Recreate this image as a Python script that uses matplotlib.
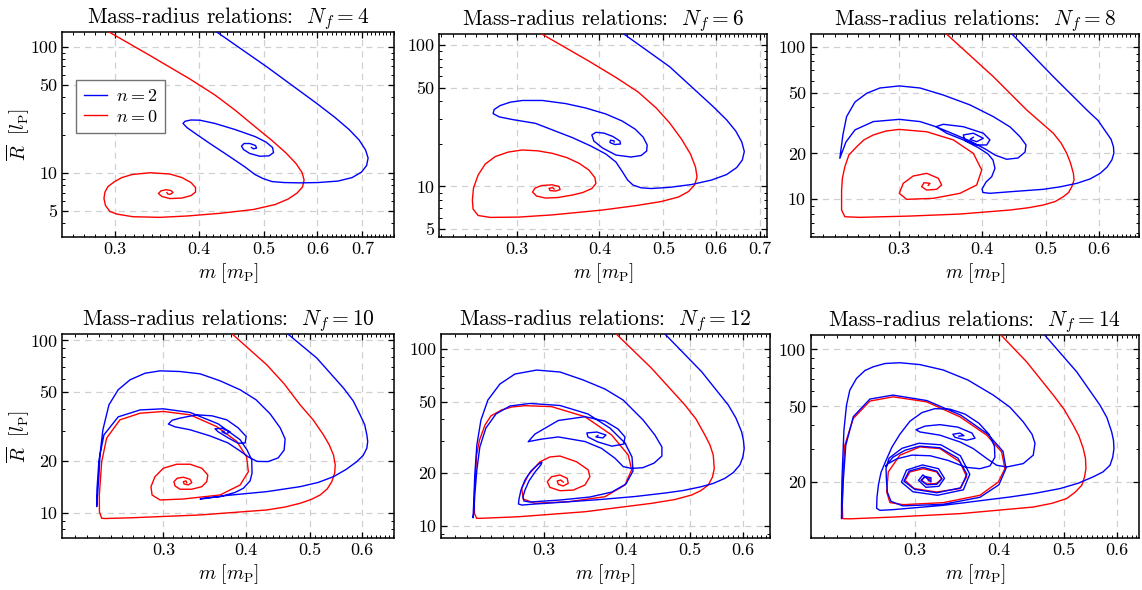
import numpy as np
import matplotlib
matplotlib.use("Agg")
import matplotlib.pyplot as plt
from matplotlib.ticker import FixedLocator, NullFormatter, LogLocator, MultipleLocator

# mass m [m_P] and radius R [l_P] along each sequence, n = 0 (red) and n = 2 (blue)
m_red_4 = [0.2889, 0.3382, 0.3878, 0.4224, 0.4526, 0.4846, 0.5137, 0.5390, 0.5577, 0.5693, 0.5733, 0.5702,
           0.5596, 0.5426, 0.5191, 0.4814, 0.4299, 0.3839, 0.3500, 0.3191, 0.3021, 0.2949, 0.2904, 0.2889,
           0.2899, 0.2929, 0.2997, 0.3072, 0.3180, 0.3382, 0.3622, 0.3773, 0.3892, 0.3953, 0.3953, 0.3892,
           0.3773, 0.3622, 0.3524, 0.3482, 0.3512, 0.3573, 0.3634, 0.3660, 0.3622, 0.3591, 0.3585]
R_red_4 = [138, 85.2, 55.5, 41.5, 31.5, 23.3, 18.08, 14.40, 11.89, 10.09, 8.80, 7.75,
           6.94, 6.22, 5.63, 5.14, 4.80, 4.57, 4.46, 4.51, 4.73, 4.96, 5.53, 6.30,
           7.07, 7.82, 8.56, 9.21, 9.73, 10.06, 9.82, 9.21, 8.41, 7.68, 7.07, 6.63,
           6.34, 6.28, 6.52, 6.88, 7.23, 7.38, 7.27, 7.01, 6.78, 6.84, 7.01]
m_blue_4 = [0.4210, 0.5044, 0.5986, 0.6375, 0.6689, 0.6922, 0.7077, 0.7138, 0.7102, 0.6980, 0.6759, 0.6440,
            0.6014, 0.5651, 0.5353, 0.5137, 0.4981, 0.4846, 0.4684, 0.4447, 0.4153, 0.3959, 0.3839, 0.3787,
            0.3813, 0.3892, 0.4013, 0.4224, 0.4526, 0.4846, 0.5032, 0.5146, 0.5164, 0.5085, 0.4928, 0.4762,
            0.4659, 0.4627, 0.4668, 0.4762, 0.4855, 0.4872, 0.4822, 0.4788]
R_blue_4 = [135.6, 69.4, 35.6, 27.5, 22.1, 18.25, 15.21, 13.15, 11.47, 10.18, 9.21, 8.64,
            8.41, 8.36, 8.41, 8.56, 9.05, 9.73, 11.16, 13.46, 17.13, 20.4, 22.9, 24.7,
            25.7, 26.3, 26.2, 24.7, 22.1, 19.45, 17.60, 15.92, 14.53, 13.68, 13.58, 14.27,
            15.35, 16.36, 17.13, 17.13, 16.51, 15.77, 15.55, 15.92]

m_red_6 = [0.3230, 0.3847, 0.4237, 0.4579, 0.4878, 0.5111, 0.5327, 0.5497, 0.5595, 0.5625, 0.5576, 0.5460,
           0.5270, 0.4965, 0.4547, 0.4044, 0.3392, 0.3017, 0.2731, 0.2618, 0.2572, 0.2566, 0.2576, 0.2618,
           0.2684, 0.2780, 0.2909, 0.3053, 0.3222, 0.3392, 0.3567, 0.3726, 0.3855, 0.3936, 0.3951, 0.3895,
           0.3773, 0.3640, 0.3456, 0.3314, 0.3210, 0.3166, 0.3194, 0.3267, 0.3392, 0.3474, 0.3486, 0.3432,
           0.3366, 0.3354, 0.3396, 0.3414]
R_red_6 = [123.6, 77.3, 58.9, 46.5, 35.8, 28.1, 21.6, 16.93, 13.69, 11.63, 10.21, 9.19,
           8.40, 7.81, 7.31, 6.80, 6.28, 6.06, 6.03, 6.22, 6.91, 8.00, 9.72, 12.02,
           14.38, 16.25, 17.48, 18.07, 17.84, 17.12, 15.99, 14.55, 13.04, 11.54, 10.47, 9.65,
           9.04, 8.68, 8.33, 8.26, 8.54, 9.11, 9.72, 10.13, 10.25, 9.97, 9.49, 9.26,
           9.34, 9.68, 9.79, 9.57]
m_blue_6 = [0.4313, 0.5111, 0.5953, 0.6238, 0.6440, 0.6577, 0.6635, 0.6589, 0.6462, 0.6238, 0.5918, 0.5517,
            0.5111, 0.4793, 0.4627, 0.4498, 0.4413, 0.4337, 0.4237, 0.4090, 0.3882, 0.3640, 0.3199, 0.2950,
            0.2818, 0.2759, 0.2769, 0.2828, 0.2930, 0.3056, 0.3276, 0.3554, 0.3815, 0.4090, 0.4329, 0.4531,
            0.4660, 0.4726, 0.4717, 0.4627, 0.4467, 0.4237, 0.4044, 0.3923, 0.3895, 0.3950, 0.4063, 0.4194,
            0.4297, 0.4305, 0.4222, 0.4150, 0.4157, 0.4208, 0.4211]
R_blue_6 = [123.6, 70.2, 36.6, 29.5, 24.6, 20.6, 17.63, 15.35, 13.59, 12.12, 11.08, 10.30,
            9.84, 9.65, 9.76, 10.21, 11.08, 12.62, 14.86, 16.93, 19.28, 22.1, 27.9, 29.7,
            31.0, 32.7, 34.96, 37.3, 39.4, 40.5, 40.5, 38.5, 35.8, 32.5, 29.0, 25.4,
            22.3, 19.60, 17.77, 16.52, 16.12, 16.65, 18.66, 20.9, 23.1, 24.1, 23.8, 22.5,
            20.9, 19.93, 19.76, 20.4, 21.2, 21.0, 20.6]

m_red_8 = [0.3480, 0.4160, 0.4671, 0.5124, 0.5264, 0.5370, 0.5440, 0.5495, 0.5508, 0.5465, 0.5404, 0.5306,
           0.5157, 0.4950, 0.4693, 0.4409, 0.3705, 0.3113, 0.2616, 0.2483, 0.2455, 0.2455, 0.2462, 0.2483,
           0.2518, 0.2587, 0.2653, 0.2741, 0.2864, 0.3000, 0.3300, 0.3620, 0.3881, 0.3996, 0.3926, 0.3705,
           0.3376, 0.3078, 0.3000, 0.3042, 0.3148, 0.3300, 0.3436, 0.3476, 0.3416, 0.3300, 0.3243, 0.3269,
           0.3338, 0.3318]
R_red_8 = [128.7, 63.6, 38.5, 27.1, 23.4, 20.0, 17.29, 14.80, 13.38, 12.09, 11.08, 10.40,
           9.67, 9.18, 8.80, 8.51, 8.01, 7.77, 7.62, 7.69, 8.51, 11.50, 13.79, 16.35,
           19.51, 22.1, 24.5, 26.4, 28.0, 28.7, 27.7, 24.5, 20.0, 15.56, 12.41, 10.95,
           10.15, 10.0, 10.95, 12.73, 14.21, 14.80, 13.73, 12.41, 11.63, 11.50, 12.09, 12.85,
           12.73, 12.35]
m_blue_8 = [0.4378, 0.5124, 0.5757, 0.5988, 0.6173, 0.6265, 0.6316, 0.6326, 0.6281, 0.6179, 0.6031, 0.5822,
            0.5561, 0.5247, 0.4950, 0.4409, 0.4111, 0.4012, 0.4000, 0.4056, 0.4137, 0.4184, 0.4155, 0.4084,
            0.3945, 0.3748, 0.3537, 0.3416, 0.3224, 0.3000, 0.2741, 0.2572, 0.2492, 0.2440, 0.2449, 0.2466,
            0.2498, 0.2572, 0.2679, 0.2805, 0.3000, 0.3224, 0.3496, 0.3837, 0.4160, 0.4409, 0.4564, 0.4661,
            0.4645, 0.4533, 0.4358, 0.4184, 0.4042, 0.3837, 0.3578, 0.3407, 0.3496, 0.3748, 0.4018, 0.4111,
            0.4065, 0.3926, 0.3770, 0.3748, 0.3881, 0.4018, 0.3926, 0.3837, 0.3881]
R_blue_8 = [128.7, 63.6, 38.5, 32.8, 27.1, 24.7, 22.1, 20.1, 18.09, 16.28, 14.80, 13.59,
            12.73, 12.07, 11.63, 11.21, 10.95, 11.08, 11.68, 12.98, 14.07, 15.96, 18.09, 19.81,
            21.85, 24.5, 27.1, 29.8, 32.3, 33.4, 32.3, 28.5, 23.7, 18.56, 21.0, 26.4,
            34.8, 43.4, 49.5, 53.6, 55.3, 53.6, 48.2, 41.5, 34.8, 29.8, 25.7, 22.7,
            20.4, 18.65, 18.29, 19.51, 21.4, 24.1, 27.4, 29.9, 31.0, 29.9, 27.1, 24.5,
            22.7, 22.7, 24.3, 26.4, 27.1, 25.1, 23.85, 24.7, 25.5]

m_red_10 = [0.3781, 0.4305, 0.4574, 0.4836, 0.5061, 0.5247, 0.5353, 0.5435, 0.5467, 0.5457, 0.5403, 0.5316,
            0.5187, 0.5026, 0.4836, 0.4590, 0.4305, 0.3410, 0.2702, 0.2446, 0.2419, 0.2400, 0.2399, 0.2419,
            0.2461, 0.2578, 0.2766, 0.3000, 0.3293, 0.3615, 0.3878, 0.4012, 0.4037, 0.3923, 0.3657, 0.3217,
            0.2966, 0.2884, 0.2873, 0.2914, 0.3000, 0.3143, 0.3293, 0.3431, 0.3504, 0.3491, 0.3431, 0.3313,
            0.3180, 0.3125, 0.3113, 0.3149, 0.3216, 0.3293, 0.3313, 0.3273, 0.3225, 0.3217, 0.3247, 0.3256]
R_red_10 = [112.4, 72.2, 56.0, 42.3, 34.6, 28.3, 24.8, 21.6, 18.94, 17.01, 15.14, 13.73,
            12.67, 11.93, 11.34, 10.79, 10.37, 9.70, 9.35, 9.25, 9.28, 10.09, 12.67, 19.80,
            27.1, 34.6, 37.8, 38.7, 37.0, 31.6, 25.9, 21.1, 17.31, 14.49, 12.67, 12.01,
            11.85, 12.67, 14.16, 16.19, 18.12, 19.11, 19.11, 18.12, 16.56, 15.14, 14.16, 13.68,
            13.68, 14.30, 15.14, 15.85, 16.06, 15.63, 14.94, 14.49, 14.68, 15.14, 15.29, 14.94]
m_blue_10 = [0.4590, 0.5127, 0.5628, 0.5821, 0.5964, 0.6060, 0.6106, 0.6124, 0.6106, 0.6028, 0.5896, 0.5680,
             0.5435, 0.5151, 0.4836, 0.4305, 0.3744, 0.3470, 0.3410, 0.3470, 0.3657, 0.3853, 0.3967, 0.4061,
             0.4089, 0.4085, 0.4019, 0.3923, 0.3632, 0.3293, 0.2998, 0.2766, 0.2562, 0.2438, 0.2396, 0.2379,
             0.2377, 0.2384, 0.2396, 0.2404, 0.2429, 0.2481, 0.2562, 0.2671, 0.2814, 0.2966, 0.3180, 0.3410,
             0.3657, 0.3923, 0.4148, 0.4355, 0.4511, 0.4590, 0.4574, 0.4480, 0.4325, 0.4162, 0.4034, 0.3923,
             0.3761, 0.3532, 0.3293, 0.3125, 0.3053, 0.3093, 0.3180, 0.3371, 0.3556, 0.3744, 0.3895, 0.4006,
             0.3992, 0.3895, 0.3761, 0.3632, 0.3593, 0.3682, 0.3787, 0.3734, 0.3682, 0.3708]
R_blue_10 = [112.4, 79.0, 52.9, 44.6, 37.0, 32.4, 28.3, 25.9, 23.7, 21.5, 19.80, 17.83,
             16.19, 14.98, 14.16, 13.25, 12.59, 12.09, 12.01, 12.17, 12.39, 13.10, 13.86, 15.29,
             16.95, 20.25, 23.1, 26.5, 32.8, 38.2, 40.1, 39.5, 36.0, 28.3, 20.25, 13.55,
             10.84, 12.67, 16.56, 21.6, 30.3, 42.3, 51.7, 59.1, 64.5, 66.6, 66.0, 64.0,
             58.3, 51.7, 45.2, 37.5, 31.1, 26.8, 23.1, 20.8, 19.80, 19.85, 21.1, 22.8,
             25.4, 27.9, 30.3, 31.5, 32.7, 34.4, 35.4, 37.0, 36.5, 34.6, 31.1, 27.7,
             25.4, 25.3, 27.2, 29.5, 30.7, 30.9, 29.5, 28.7, 29.5, 29.7]

m_red_12 = [0.3836, 0.4369, 0.4908, 0.5099, 0.5261, 0.5355, 0.5416, 0.5435, 0.5402, 0.5322, 0.5190, 0.5023,
            0.4738, 0.4369, 0.3464, 0.2746, 0.2402, 0.2375, 0.2357, 0.2356, 0.2375, 0.2399, 0.2445, 0.2496,
            0.2591, 0.2686, 0.2811, 0.3084, 0.3464, 0.3802, 0.4029, 0.4076, 0.3982, 0.3713, 0.3268, 0.2910,
            0.2794, 0.2779, 0.2843, 0.2961, 0.3066, 0.3176, 0.3365, 0.3504, 0.3524, 0.3464, 0.3326, 0.3176,
            0.3066, 0.3038, 0.3084, 0.3176, 0.3257, 0.3268, 0.3212, 0.3157, 0.3145, 0.3183, 0.3212]
R_red_12 = [124.8, 77.8, 48.2, 40.2, 32.6, 28.6, 25.1, 21.1, 18.86, 17.0, 15.82, 14.92,
            14.07, 13.39, 12.00, 11.24, 11.01, 11.01, 11.80, 14.92, 25.1, 30.5, 37.1, 41.8,
            45.2, 47.0, 47.8, 47.2, 41.4, 32.6, 25.1, 20.7, 17.0, 14.59, 13.67, 13.39,
            14.16, 16.28, 19.36, 23.0, 24.5, 24.8, 23.0, 20.7, 18.94, 17.0, 15.92, 15.78,
            16.49, 17.75, 18.94, 19.36, 18.54, 17.38, 16.78, 17.15, 17.91, 18.14, 17.67]
m_blue_12 = [0.4546, 0.5201, 0.5707, 0.5861, 0.5979, 0.6016, 0.6033, 0.6005, 0.5943, 0.5808, 0.5640, 0.5411,
             0.5171, 0.4874, 0.4577, 0.4122, 0.3650, 0.3231, 0.2910, 0.2781, 0.2748, 0.2753, 0.2772, 0.2811,
             0.2870, 0.2941, 0.2982, 0.2972, 0.2910, 0.2850, 0.2811, 0.2791, 0.2801, 0.2860, 0.3176, 0.3524,
             0.3805, 0.3996, 0.4095, 0.4081, 0.3982, 0.3779, 0.3500, 0.3176, 0.2860, 0.2668, 0.2541, 0.2453,
             0.2402, 0.2377, 0.2360, 0.2352, 0.2346, 0.2352, 0.2360, 0.2377, 0.2411, 0.2470, 0.2576, 0.2715,
             0.2927, 0.3176, 0.3443, 0.3713, 0.3958, 0.4243, 0.4420, 0.4529, 0.4529, 0.4406, 0.4238, 0.4076,
             0.3958, 0.3846, 0.3670, 0.3464, 0.3157, 0.2975, 0.2843, 0.2910, 0.3013, 0.3157, 0.3464, 0.3713,
             0.3886, 0.3982, 0.3968, 0.3805, 0.3623, 0.3500, 0.3487, 0.3611, 0.3727, 0.3688, 0.3599, 0.3623]
R_blue_12 = [124.8, 74.4, 48.2, 40.7, 34.0, 30.5, 27.4, 24.5, 22.1, 20.0, 18.54, 17.34,
             16.56, 15.82, 15.31, 14.63, 14.07, 13.62, 13.27, 13.09, 13.27, 14.16, 15.92, 18.14,
             20.4, 22.2, 22.9, 22.1, 20.1, 17.91, 15.92, 14.54, 13.80, 13.62, 13.98, 14.54,
             15.51, 17.22, 20.4, 24.5, 29.4, 35.7, 42.9, 47.9, 49.2, 47.6, 42.9, 35.7,
             27.9, 20.7, 14.92, 11.80, 11.10, 13.98, 19.36, 28.6, 39.6, 51.4, 63.4, 72.2,
             76.0, 74.1, 66.8, 59.4, 51.4, 39.6, 32.6, 27.9, 24.8, 22.6, 21.3, 21.1,
             21.6, 24.1, 27.4, 29.96, 31.8, 30.9, 29.9, 33.0, 35.6, 39.4, 41.4, 39.1,
             35.3, 31.8, 29.0, 28.2, 29.8, 31.8, 33.5, 33.9, 32.6, 31.4, 31.8, 32.4]

m_red_14 = [0.3989, 0.4397, 0.4819, 0.4998, 0.5161, 0.5261, 0.5340, 0.5380, 0.5389, 0.5362, 0.5312, 0.5191,
            0.5044, 0.4797, 0.4499, 0.3500, 0.2784, 0.2400, 0.2342, 0.2339, 0.2342, 0.2347, 0.2359, 0.2428,
            0.2571, 0.2784, 0.3122, 0.3500, 0.3836, 0.4037, 0.4083, 0.3992, 0.3748, 0.3306, 0.2882, 0.2754,
            0.2723, 0.2738, 0.2849, 0.3051, 0.3268, 0.3500, 0.3581, 0.3500, 0.3231, 0.2992, 0.2900, 0.2949,
            0.3087, 0.3231, 0.3287, 0.3231, 0.3122, 0.3070, 0.3105, 0.3159, 0.3140]
R_red_14 = [123.4, 86.0, 57.4, 48.4, 39.8, 34.9, 30.0, 26.7, 23.5, 21.2, 19.21, 17.65,
            16.35, 15.44, 14.76, 13.62, 13.07, 12.79, 12.82, 15.07, 17.02, 23.1, 31.2, 43.2,
            53.4, 56.2, 52.9, 44.1, 35.3, 28.8, 23.5, 20.0, 17.02, 15.57, 15.19, 15.57,
            17.71, 22.6, 27.7, 30.6, 30.0, 25.5, 21.3, 18.46, 17.71, 18.46, 20.4, 22.6,
            23.5, 22.6, 20.8, 19.62, 19.53, 20.4, 21.3, 20.8, 20.3]
m_blue_14 = [0.4636, 0.5220, 0.5655, 0.5790, 0.5886, 0.5922, 0.5932, 0.5907, 0.5852, 0.5713, 0.5526, 0.5245,
             0.4930, 0.4526, 0.4153, 0.3306, 0.2784, 0.2661, 0.2631, 0.2634, 0.2648, 0.2671, 0.2717, 0.2772,
             0.2849, 0.2949, 0.3072, 0.3212, 0.3382, 0.3560, 0.3735, 0.3866, 0.3939, 0.3945, 0.3879, 0.3748,
             0.3573, 0.3359, 0.3159, 0.2969, 0.2820, 0.2735, 0.2712, 0.2782, 0.2900, 0.3051, 0.3268, 0.3476,
             0.3584, 0.3510, 0.3234, 0.2997, 0.2889, 0.2939, 0.3083, 0.3234, 0.3291, 0.3234, 0.3126, 0.3062,
             0.3105, 0.3169, 0.3169, 0.3083, 0.3036, 0.3115, 0.3257, 0.3319, 0.3252, 0.3078, 0.2914, 0.2864,
             0.2979, 0.3240, 0.3541, 0.3620, 0.3505, 0.3279, 0.3042, 0.2870, 0.2745, 0.2717, 0.2721, 0.2730,
             0.2763, 0.2878, 0.3303, 0.3748, 0.4000, 0.4098, 0.4056, 0.3852, 0.3510, 0.3126, 0.2782, 0.2571,
             0.2429, 0.2367, 0.2347, 0.2336, 0.2333, 0.2333, 0.2336, 0.2342, 0.2352, 0.2373, 0.2400, 0.2456,
             0.2527, 0.2600, 0.2707, 0.2849, 0.3051, 0.3306, 0.3597, 0.3923, 0.4153, 0.4347, 0.4480, 0.4526,
             0.4499, 0.4347, 0.4108, 0.3969, 0.3836, 0.3663, 0.3500, 0.3268, 0.3051, 0.3010, 0.3105, 0.3268,
             0.3476, 0.3647, 0.3685, 0.3581, 0.3440, 0.3416, 0.3500, 0.3548, 0.3487]
R_blue_14 = [123.4, 76.2, 50.8, 43.7, 36.7, 33.2, 30.0, 27.0, 24.5, 22.6, 21.3, 19.69,
             18.46, 17.43, 16.67, 15.07, 14.30, 14.18, 14.53, 16.61, 19.45, 22.5, 26.0, 30.5,
             35.7, 41.8, 46.4, 48.7, 48.4, 45.6, 40.8, 35.7, 30.9, 27.0, 24.3, 23.5,
             23.9, 26.0, 27.5, 27.7, 26.5, 24.95, 24.2, 27.0, 29.4, 30.9, 30.3, 26.7,
             21.96, 18.64, 17.54, 18.30, 20.2, 22.8, 23.9, 22.8, 20.8, 19.45, 19.33, 20.4,
             21.4, 21.05, 20.0, 21.8, 20.4, 18.75, 18.98, 20.9, 23.5, 24.6, 23.1, 19.97,
             17.76, 17.02, 18.19, 21.96, 27.5, 31.4, 32.0, 30.1, 26.7, 23.6, 20.4, 17.65,
             15.82, 14.97, 15.25, 16.61, 19.33, 23.6, 29.0, 35.7, 45.0, 53.7, 57.4, 54.7,
             44.2, 31.2, 20.4, 15.07, 12.82, 15.07, 20.4, 25.5, 37.5, 50.8, 61.0, 70.3,
             77.3, 80.9, 84.2, 85.0, 83.1, 77.8, 68.9, 57.4, 49.6, 41.5, 35.7, 32.0,
             27.7, 25.0, 24.0, 24.5, 26.6, 30.0, 32.5, 35.3, 36.7, 37.7, 39.4, 40.1,
             38.9, 36.2, 34.0, 33.2, 34.4, 35.7, 36.2, 35.1, 34.9]

Nf_values = [4, 6, 8, 10, 12, 14]
x_limits = [(0.2505, 0.780), (0.2286, 0.719), (0.2205, 0.691), (0.2108, 0.672), (0.2098, 0.660), (0.2099, 0.647)]
y_limits = [(3.1, 131.5), (4.36, 119), (5.64, 121), (7.1, 109), (8.49, 121.6), (10.1, 119)]
y_ticks = [[5, 10, 50, 100], [5, 10, 50, 100], [10, 20, 50, 100],
           [10, 20, 50, 100], [10, 20, 50, 100], [20, 50, 100]]
x_ticks = [0.3, 0.4, 0.5, 0.6, 0.7]

red_curves = [(m_red_4, R_red_4), (m_red_6, R_red_6), (m_red_8, R_red_8),
              (m_red_10, R_red_10), (m_red_12, R_red_12), (m_red_14, R_red_14)]
blue_curves = [(m_blue_4, R_blue_4), (m_blue_6, R_blue_6), (m_blue_8, R_blue_8),
               (m_blue_10, R_blue_10), (m_blue_12, R_blue_12), (m_blue_14, R_blue_14)]

plt.rcParams.update({
    "font.family": "serif",
    "font.serif": ["cmr10", "DejaVu Serif"],
    "mathtext.fontset": "cm",
    "axes.unicode_minus": False,
    "font.size": 13,
    "axes.linewidth": 1.1,
    "xtick.direction": "in", "ytick.direction": "in",
    "xtick.top": True, "ytick.right": True,
    "xtick.major.size": 4, "ytick.major.size": 4,
    "xtick.minor.size": 2.2, "ytick.minor.size": 2.2,
    "xtick.major.width": 0.9, "ytick.major.width": 0.9,
    "xtick.minor.width": 0.7, "ytick.minor.width": 0.7,
    "xtick.labelsize": 13, "ytick.labelsize": 13,
})

W, H = 1142, 590
fig = plt.figure(figsize=(W / 100, H / 100), dpi=100)

# panel frames in pixels: left, right, top, bottom
boxes = [(62.3, 394.0, 31.7, 237.3), (439.3, 767.3, 34.3, 237.3), (810.7, 1139.3, 34.0, 237.3),
         (62.3, 394.3, 334.0, 538.3), (441.0, 770.0, 334.0, 538.3), (810.7, 1139.3, 335.0, 538.3)]

for i, Nf in enumerate(Nf_values):
    l, r, t, b = boxes[i]
    ax = fig.add_axes([l / W, 1 - b / H, (r - l) / W, (b - t) / H])
    ax.set_xscale("log")
    ax.set_yscale("log")

    mr, Rr = red_curves[i]
    mb, Rb = blue_curves[i]
    line_red, = ax.plot(mr, Rr, color="red", lw=1.0, label=r"$n = 0$", zorder=3,
                        solid_joinstyle="round")
    line_blue, = ax.plot(mb, Rb, color="blue", lw=1.0, label=r"$n = 2$", zorder=4,
                         solid_joinstyle="round")

    ax.set_xlim(*x_limits[i])
    ax.set_ylim(*y_limits[i])

    xt = [v for v in x_ticks if x_limits[i][0] < v < x_limits[i][1]]
    ax.xaxis.set_major_locator(FixedLocator(xt))
    ax.set_xticklabels([f"{v:g}" for v in xt])
    ax.xaxis.set_minor_locator(MultipleLocator(0.01))
    ax.xaxis.set_minor_formatter(NullFormatter())

    ax.yaxis.set_major_locator(FixedLocator(y_ticks[i]))
    ax.set_yticklabels([f"{v:g}" for v in y_ticks[i]])
    ax.yaxis.set_minor_locator(LogLocator(base=10, subs=np.arange(2, 10)))
    ax.yaxis.set_minor_formatter(NullFormatter())

    ax.grid(True, which="major", color="#d0d0d0", linestyle=(0, (5, 4)), lw=0.9, zorder=0)
    ax.set_title(rf"Mass-radius relations:  $N_f = {Nf}$", fontsize=15.5, pad=4)
    ax.set_xlabel(r"$m\ [m_{\rm P}]$", fontsize=14, labelpad=3)
    if i % 3 == 0:
        ax.set_ylabel(r"$\overline{R}\ \ [l_{\rm P}]$", fontsize=14)
        ax.yaxis.set_label_coords(-0.092, 0.5)
    if i == 0:
        leg = ax.legend(handles=[line_blue, line_red], loc="upper left", bbox_to_anchor=(0.041, 0.765),
                        borderaxespad=0, fontsize=13, frameon=True, fancybox=False, edgecolor="0.45",
                        framealpha=1, handlelength=1.3, borderpad=0.45, labelspacing=0.25,
                        handletextpad=0.45)
        leg.get_frame().set_linewidth(1.0)

fig.savefig("out.png", dpi=100)
